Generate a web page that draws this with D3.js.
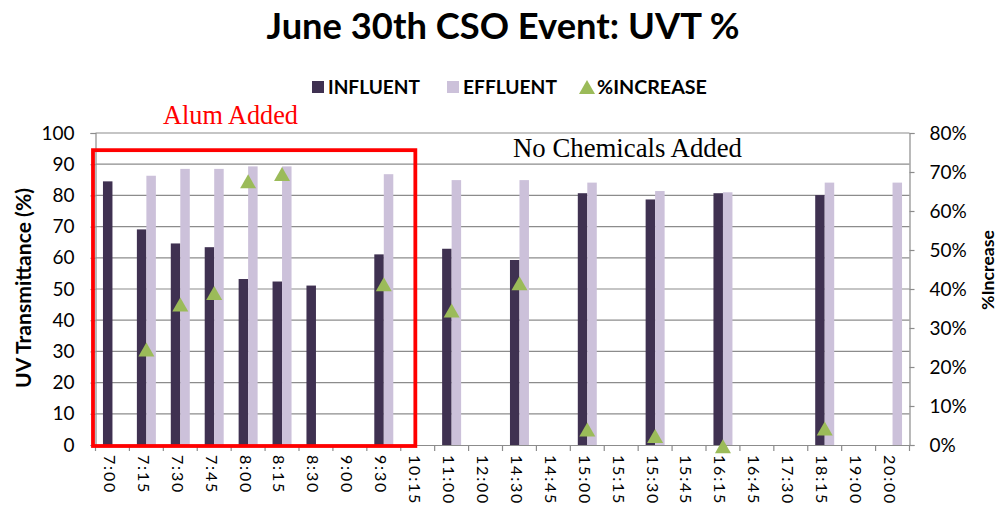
<!DOCTYPE html>
<html>
<head>
<meta charset="utf-8">
<script src="https://cdn.jsdelivr.net/npm/d3@7"></script>
<style>
  html, body { margin: 0; padding: 0; background: #fff; }
  svg { display: block; }
</style>
</head>
<body>
<svg id="chart" width="1001" height="519"></svg>
<script>
// ---------- DATA ----------
const categories = ["7:00","7:15","7:30","7:45","8:00","8:15","8:30","9:00","9:30","10:15","11:00","12:00","14:30","14:45","15:00","15:15","15:30","15:45","16:15","16:45","17:30","18:15","19:00","20:00"];
const influent = [84.5, 69.1, 64.6, 63.4, 53.2, 52.4, 51.1, null, 61.1, null, 62.9, null, 59.3, null, 80.7, null, 78.7, null, 80.7, null, null, 80.1, null, null];
const effluent = [null, 86.3, 88.5, 88.5, 89.3, 89.3, null, null, 86.8, null, 84.9, null, 84.9, null, 84.1, null, 81.4, null, 81.0, null, null, 84.1, null, 84.1];
const pctIncrease = [null, 24.5, 36, 39, 67.6, 69.5, null, null, 41.2, null, 34.5, null, 41.5, null, 4.0, null, 2.3, null, -0.3, null, null, 4.2, null, null];
const leftTicks = [0,10,20,30,40,50,60,70,80,90,100];
const rightTicks = [0,10,20,30,40,50,60,70,80];
const seriesNames = ["INFLUENT","EFFLUENT","%INCREASE"];
const titleText = "June 30th CSO Event: UVT %";
const leftTitle = "UV Transmittance (%)";
const rightTitle = "%Increase";
const alumLabel = "Alum Added";
const noChemLabel = "No Chemicals Added";

// ---------- STYLE ----------
const colInf = "#3F3151", colEff = "#CCC1DA", colInc = "#9BBB59";
const gridCol = "#8C8C8C";
const sans = "Lato, 'Open Sans', sans-serif";
const serif = "'Liberation Serif', 'Times New Roman', serif";

const svg = d3.select("#chart");
const L = 95.5, R = 909.5, T = 133, B = 445;

const x = d3.scaleBand().domain(categories).range([L, R]).padding(0);
const y = d3.scaleLinear().domain([0, 100]).range([B, T]);
const y2 = d3.scaleLinear().domain([0, 80]).range([B, T]);
const bw = x.bandwidth() * 0.28;

function fit(sel, w) {
  const n = sel.node();
  const len = n.getComputedTextLength();
  const fs = parseFloat(sel.attr("font-size"));
  sel.attr("font-size", (fs * w / len).toFixed(2));
}

// Title
svg.append("text").attr("x", 503).attr("y", 39).attr("text-anchor", "middle")
  .attr("font-family", sans).attr("font-weight", "bold").attr("font-size", 32)
  .attr("fill", "#000").text(titleText).call(fit, 473);

// Gridlines
svg.append("g").selectAll("line").data(leftTicks.filter(d => d > 0)).join("line")
  .attr("x1", L).attr("x2", R).attr("y1", d => y(d)).attr("y2", d => y(d))
  .attr("stroke", gridCol).attr("stroke-width", 1.2);

// Bars
const gb = svg.append("g");
gb.selectAll("rect.inf").data(categories.map((c, i) => ({c, v: influent[i]})).filter(d => d.v != null))
  .join("rect").attr("class", "inf")
  .attr("x", d => x(d.c) + x.bandwidth() / 2 - bw).attr("width", bw)
  .attr("y", d => y(d.v)).attr("height", d => y(0) - y(d.v)).attr("fill", colInf);
gb.selectAll("rect.eff").data(categories.map((c, i) => ({c, v: effluent[i]})).filter(d => d.v != null))
  .join("rect").attr("class", "eff")
  .attr("x", d => x(d.c) + x.bandwidth() / 2).attr("width", bw)
  .attr("y", d => y(d.v)).attr("height", d => y(0) - y(d.v)).attr("fill", colEff);

// Axes
const axL = svg.append("g").attr("transform", `translate(${L},0)`)
  .call(d3.axisLeft(y).tickValues(leftTicks).tickSize(5).tickFormat(d3.format("d")));
const axR = svg.append("g").attr("transform", `translate(${R},0)`)
  .call(d3.axisRight(y2).tickValues(rightTicks).tickSize(5).tickFormat(d => d + "%"));
const axB = svg.append("g").attr("transform", `translate(0,${B})`)
  .call(d3.axisBottom(x).tickSize(0).tickFormat(""));
// category-boundary ticks on x axis
axB.selectAll("line.bt").data(categories.concat(["_end"])).join("line").attr("class", "bt")
  .attr("x1", (d, i) => L + i * x.step()).attr("x2", (d, i) => L + i * x.step())
  .attr("y1", 0).attr("y2", 6).attr("stroke", gridCol).attr("stroke-width", 1.2);

[axL, axR, axB].forEach(a => {
  a.selectAll(".domain").attr("stroke", gridCol).attr("stroke-width", 1.2);
  a.selectAll(".tick line").attr("stroke", gridCol).attr("stroke-width", 1.2);
  a.selectAll(".tick text").attr("font-family", sans).attr("font-size", 19).attr("fill", "#000");
});
axL.selectAll(".tick text").attr("x", -21);
axR.selectAll(".tick text").attr("x", 20);

// X labels rotated
svg.append("g").selectAll("text").data(categories).join("text")
  .attr("transform", d => `translate(${x(d) + x.bandwidth() / 2 - 3},${B + 10}) rotate(90)`)
  .attr("dy", "0.35em")
  .attr("font-family", sans).attr("font-size", 16).attr("letter-spacing", 1.8)
  .attr("fill", "#000").text(d => d);

// Axis titles
svg.append("text").attr("transform", `translate(24,288) rotate(-90)`)
  .attr("text-anchor", "middle").attr("dy", "0.35em")
  .attr("font-family", sans).attr("font-weight", "bold").attr("font-size", 17)
  .text(leftTitle).call(fit, 200);
svg.append("text").attr("transform", `translate(988,270) rotate(-90)`)
  .attr("text-anchor", "middle").attr("dy", "0.35em")
  .attr("font-family", sans).attr("font-weight", "bold").attr("font-size", 16)
  .text(rightTitle).call(fit, 80);

// Triangles
const tri = "M0,-7L8,7L-8,7Z";
svg.append("g").selectAll("path").data(categories.map((c, i) => ({c, v: pctIncrease[i]})).filter(d => d.v != null))
  .join("path").attr("d", tri)
  .attr("transform", d => `translate(${x(d.c) + x.bandwidth() / 2},${y2(d.v)})`)
  .attr("fill", colInc);

// Red box (alum added period)
const boxL = L - 2.5, boxR = x("10:15") + x.bandwidth() * 0.43;
svg.append("rect").attr("x", boxL).attr("y", y(94.5))
  .attr("width", boxR - boxL).attr("height", y(0) + 1 - y(94.5))
  .attr("fill", "none").attr("stroke", "#FF0000").attr("stroke-width", 3.8);

// Annotations
svg.append("text").attr("x", 163).attr("y", 124).attr("font-family", serif)
  .attr("font-size", 26).attr("fill", "#FF0000").text(alumLabel).call(fit, 135);
svg.append("text").attr("x", 513).attr("y", 157).attr("font-family", serif)
  .attr("font-size", 26).attr("fill", "#000").text(noChemLabel).call(fit, 229);

// Legend
const lg = svg.append("g");
const legendItems = [
  {name: seriesNames[0], type: "rect", color: colInf, mx: 312, tx: 328, tw: 92},
  {name: seriesNames[1], type: "rect", color: colEff, mx: 447, tx: 463, tw: 94},
  {name: seriesNames[2], type: "tri", color: colInc, mx: 579, tx: 597, tw: 110}
];
legendItems.forEach(it => {
  if (it.type === "rect") {
    lg.append("rect").attr("x", it.mx).attr("y", 81).attr("width", 12).attr("height", 12).attr("fill", it.color);
  } else {
    lg.append("path").attr("d", "M0,-7L8,7L-8,7Z").attr("transform", "translate(587,87)").attr("fill", it.color);
  }
  lg.append("text").attr("x", it.tx).attr("y", 94).attr("font-family", sans)
    .attr("font-weight", "bold").attr("font-size", 18).attr("fill", "#000")
    .text(it.name).call(fit, it.tw);
});
</script>
</body>
</html>
